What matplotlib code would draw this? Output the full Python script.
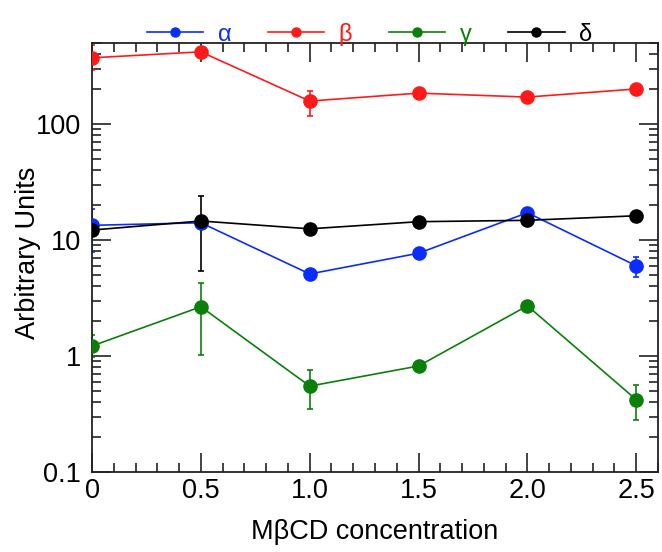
import numpy as np
import matplotlib
matplotlib.use("Agg")
import matplotlib.pyplot as plt
from matplotlib.ticker import LogLocator, MultipleLocator, FixedLocator, FuncFormatter

plt.rcParams['font.family'] = ['Liberation Sans', 'DejaVu Sans']

# concentration
conc = [0, 0.5, 1.0, 1.5, 2.0, 2.5]

alpha = [13.4, 14.1, 5.1, 7.7, 17.2, 6.0]
alpha_lo = [7.9, 14.1, 5.1, 7.7, 17.2, 4.8]
alpha_hi = [18.5, 14.1, 5.1, 7.7, 17.2, 7.1]

beta = [373, 420, 158, 185, 171, 201]
beta_lo = [292, 420, 118, 185, 171, 201]
beta_hi = [480, 420, 194, 185, 171, 201]

gamma = [1.22, 2.66, 0.55, 0.82, 2.71, 0.42]
gamma_lo = [0.98, 1.03, 0.35, 0.82, 2.71, 0.28]
gamma_hi = [1.52, 4.28, 0.76, 0.82, 2.71, 0.56]

delta = [12.2, 14.6, 12.5, 14.4, 14.8, 16.2]
delta_lo = [12.2, 5.4, 12.5, 14.4, 14.8, 16.2]
delta_hi = [12.2, 24.1, 12.5, 14.4, 14.8, 16.2]

labels = ['α', 'β', 'γ', 'δ']
couleurs = ['#0a2cff', '#ff1a1a', '#0a800a', '#000000']
series = [(alpha, alpha_lo, alpha_hi), (beta, beta_lo, beta_hi),
          (gamma, gamma_lo, gamma_hi), (delta, delta_lo, delta_hi)]

fig = plt.figure(figsize=(6.62, 5.52), dpi=100)
ax = fig.add_axes([0.139, 0.145, 0.855, 0.777])

handles = []
for (y, lo, hi), c, lab in zip(series, couleurs, labels):
    y = np.array(y)
    err = [y - np.array(lo), np.array(hi) - y]
    ax.errorbar(conc, y, yerr=err, fmt='none', ecolor=c, elinewidth=1.2,
                capsize=2, capthick=1.2, zorder=2)
    ax.plot(conc, y, '-o', color=c, lw=1.2, ms=9.5, zorder=3)
    h, = ax.plot([], [], '-o', color=c, lw=1.2, ms=6.5)
    handles.append(h)

ax.set_yscale('log')
ax.set_xlim(0, 2.6)
ax.set_ylim(0.1, 500)
ax.xaxis.set_major_locator(FixedLocator([0, 0.5, 1.0, 1.5, 2.0, 2.5]))
ax.xaxis.set_major_formatter(FuncFormatter(lambda v, p: '0' if v == 0 else '%.1f' % v))
ax.xaxis.set_minor_locator(MultipleLocator(0.1))
ax.yaxis.set_major_locator(LogLocator(base=10))
ax.yaxis.set_minor_locator(LogLocator(base=10, subs=np.arange(2, 10)))
ax.yaxis.set_major_formatter(FuncFormatter(lambda v, p: '%g' % v))

ax.tick_params(which='both', direction='in', top=True, right=True, labelsize=19.5, color='#222222')
ax.tick_params(which='major', length=14, width=1.2)
ax.tick_params(axis='x', which='major', pad=4)
ax.tick_params(axis='y', which='major', pad=8)
ax.tick_params(which='minor', length=6.5, width=1.2)
for s in ax.spines.values():
    s.set_linewidth(1.3)
    s.set_color('#222222')

ax.set_xlabel('MβCD concentration', fontsize=19.5, labelpad=11)
ax.set_ylabel('Arbitrary Units', fontsize=19.5)
ax.yaxis.set_label_coords(-0.09, 0.51)

leg = fig.legend(handles, labels, loc='center', bbox_to_anchor=(0.558, 0.938), ncol=4,
                 frameon=False, fontsize=17, handlelength=2.4, columnspacing=1.55,
                 handletextpad=0.6)
for t, c in zip(leg.get_texts(), couleurs):
    t.set_color(c)

fig.savefig('out.png', dpi=100)
